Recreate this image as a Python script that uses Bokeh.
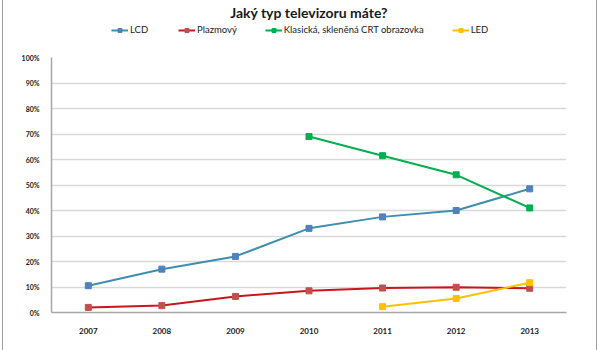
from bokeh.plotting import figure
from bokeh.layouts import column
from bokeh.models import Label, Legend, LegendItem, FixedTicker, Range1d
from bokeh.embed import file_html
from bokeh.resources import INLINE

years = ["2007", "2008", "2009", "2010", "2011", "2012", "2013"]
lcd = [10.5, 17.0, 22.0, 33.0, 37.5, 40.0, 48.5]
plazma = [2.0, 2.7, 6.3, 8.5, 9.6, 9.9, 9.5]
crt_years = ["2010", "2011", "2012", "2013"]
crt = [69.0, 61.5, 54.0, 41.0]
led_years = ["2011", "2012", "2013"]
led = [2.3, 5.5, 11.7]
y_ticks = [0, 10, 20, 30, 40, 50, 60, 70, 80, 90, 100]
y_tick_labels = [f"{t}%" for t in y_ticks]
title_text = "Jaký typ televizoru máte?"
footer_text = "Cílová skupina: televizní domácnosti"

FONT = "Lato"

def xi(ys):
    return [years.index(y) for y in ys]

series = [
    ("LCD", xi(years), lcd, "#3d8fae", "#4f81bd"),
    ("Plazmový", xi(years), plazma, "#c8161d", "#c0504d"),
    ("Klasická, skleněná CRT obrazovka", xi(crt_years), crt, "#00b050", "#00b050"),
    ("LED", xi(led_years), led, "#ffc000", "#ffc000"),
]

# ---- header: title + legend ----
head = figure(width=593, height=50, output_backend="svg", toolbar_location=None,
              x_range=Range1d(100, 101), y_range=Range1d(0, 1),
              min_border=0, x_axis_type=None, y_axis_type=None)
head.outline_line_color = None
head.grid.grid_line_color = None
head.border_fill_color = "white"
items = []
for name, xs, ys, lc, mc in series:
    ln = head.line(xs, ys, line_color=lc, line_width=2)
    sc = head.scatter(xs, ys, marker="square", size=6, fill_color=mc, line_color=mc)
    items.append(LegendItem(label=name, renderers=[ln, sc]))
legend = Legend(items=items, orientation="horizontal", location=(60, 15),
                border_line_color=None, background_fill_alpha=0,
                spacing=28, glyph_width=17, glyph_height=10, label_standoff=2,
                padding=0, margin=0,
                label_text_font=FONT, label_text_font_size="9.5px",
                label_text_color="#1a1a1a", label_height=10)
head.add_layout(legend, "center")
head.add_layout(Label(x=100.5, y=0.76, text=title_text, text_align="center",
                      text_baseline="alphabetic", text_font=FONT,
                      text_font_size="14px", text_font_style="bold", text_color="#1a1a1a"))

# ---- main chart ----
p = figure(width=593, height=300, output_backend="svg", toolbar_location=None,
           x_range=Range1d(-0.5, 6.5), y_range=Range1d(0, 100),
           min_border_left=48, min_border_right=30, min_border_top=7, min_border_bottom=38)
p.outline_line_color = None
p.background_fill_color = "white"
p.border_fill_color = "white"

p.xgrid.grid_line_color = None
p.ygrid.grid_line_color = "#d9d9d9"
p.ygrid.grid_line_width = 1.5

p.xaxis.ticker = FixedTicker(ticks=list(range(len(years))))
p.xaxis.major_label_overrides = {i: y for i, y in enumerate(years)}
p.yaxis.ticker = FixedTicker(ticks=y_ticks)
p.yaxis.major_label_overrides = {t: l for t, l in zip(y_ticks, y_tick_labels)}
for ax in (p.xaxis, p.yaxis):
    ax.major_tick_line_color = None
    ax.minor_tick_line_color = None
    ax.axis_line_color = "#a6a6a6"
    ax.axis_line_width = 1.5
    ax.major_label_text_font = FONT
    ax.major_label_text_font_style = "bold"
    ax.major_label_text_color = "#1a1a1a"
p.xaxis.major_label_text_font_size = "8px"
p.yaxis.major_label_text_font_size = "7px"
p.xaxis.major_label_standoff = 9
p.yaxis.major_label_standoff = 6

for name, xs, ys, lc, mc in series:
    p.line(xs, ys, line_color=lc, line_width=2)
    p.scatter(xs, ys, marker="square", size=6, fill_color=mc, line_color=mc)

p.add_layout(Label(x=6.8, y=-12.3, text=footer_text, text_align="right",
                   text_baseline="alphabetic", text_font=FONT,
                   text_font_size="8px", text_color="#1a1a1a"))

layout = column(head, p, spacing=0)
layout.styles = {"border-left": "1.5px solid #a0a0a0", "border-right": "1.5px solid #a0a0a0",
                 "margin-left": "2px"}

open("out.html", "w").write(file_html(layout, INLINE))
